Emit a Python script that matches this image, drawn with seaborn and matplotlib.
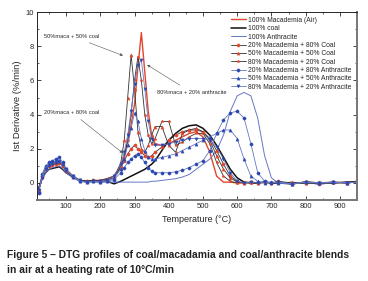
import matplotlib
matplotlib.use("Agg")
import matplotlib.pyplot as plt
from matplotlib.ticker import MultipleLocator
import seaborn as sns

# temperature grid (deg C) shared by all curves
temp = [20, 30, 40, 50, 60, 70, 80, 90, 100, 120, 140, 160, 180, 200, 220, 240, 260,
        270, 280, 290, 300, 310, 320, 330, 340, 350, 360, 380, 400, 420, 440, 460,
        480, 500, 520, 540, 560, 580, 600, 620, 640, 660, 680, 700, 720, 760, 800,
        840, 880, 920, 950]

# DTG values (%/min)
mac100 = [-0.4, 0.3, 0.8, 1.0, 1.1, 1.2, 1.3, 1.1, 0.8, 0.4, 0.15, 0.1, 0.15, 0.15, 0.25, 0.4, 1.0,
          1.6, 2.4, 3.4, 4.6, 6.8, 8.8, 6.5, 4.2, 2.8, 2.3, 2.2, 2.3, 2.5, 2.7, 2.9,
          3.0, 2.7, 1.8, 0.4, 0.05, 0.05, 0.0, 0.0, 0.05, 0.0, 0.05, 0.0, 0.05, -0.05, 0.05,
          0.0, 0.05, 0.0, 0.1]
coal100 = [-0.3, 0.3, 0.6, 0.8, 0.85, 0.9, 0.95, 0.8, 0.6, 0.35, 0.15, 0.1, 0.1, 0.1, 0.1, -0.05, 0.1,
           0.2, 0.3, 0.4, 0.5, 0.6, 0.7, 0.8, 0.95, 1.1, 1.3, 1.9, 2.5, 2.9, 3.2, 3.35,
           3.4, 3.2, 2.8, 2.2, 1.5, 0.8, 0.3, 0.05, 0.0, 0.0, 0.05, 0.0, 0.0, -0.05, 0.05,
           0.0, 0.0, 0.05, 0.05]
anth100 = [-0.4, 0.2, 0.6, 0.8, 0.9, 0.95, 1.0, 0.85, 0.6, 0.3, 0.1, 0.05, 0.05, 0.05, 0.05, 0.05, 0.05,
           0.05, 0.05, 0.05, 0.05, 0.05, 0.05, 0.05, 0.05, 0.1, 0.1, 0.15, 0.2, 0.25, 0.35, 0.5,
           0.8, 1.1, 1.4, 1.9, 2.8, 4.2, 5.1, 5.3, 5.1, 3.8, 1.6, 0.3, 0.0, -0.05, 0.05,
           -0.1, 0.05, 0.0, 0.05]
coal_20mac = [-0.5, 0.4, 0.8, 1.0, 1.05, 1.1, 1.15, 1.0, 0.7, 0.35, 0.15, 0.1, 0.15, 0.1, 0.2, 0.3, 0.9,
              1.3, 1.7, 2.0, 2.2, 2.0, 1.8, 1.6, 1.5, 1.6, 1.8, 2.1, 2.5, 2.8, 3.0, 3.1,
              3.1, 3.0, 2.6, 1.9, 1.1, 0.4, 0.1, 0.0, 0.05, 0.0, 0.05, 0.0, 0.1, 0.0, 0.05,
              -0.05, 0.05, 0.0, 0.1]
coal_50mac = [-0.4, 0.4, 0.9, 1.1, 1.15, 1.2, 1.25, 1.05, 0.75, 0.4, 0.15, 0.1, 0.15, 0.1, 0.2, 0.3, 1.2,
              2.5, 5.0, 7.5, 5.5, 3.0, 2.0, 1.8, 2.2, 2.8, 3.3, 3.3, 2.2, 1.8, 2.9, 3.1,
              3.2, 3.0, 2.5, 1.6, 0.8, 0.3, 0.05, 0.0, 0.05, 0.0, 0.05, 0.0, 0.05, -0.05, 0.05,
              0.0, 0.05, 0.0, 0.1]
coal_80mac = [-0.4, 0.3, 0.9, 1.1, 1.2, 1.25, 1.3, 1.1, 0.8, 0.4, 0.15, 0.1, 0.15, 0.15, 0.25, 0.4, 1.0,
              1.5, 2.5, 4.0, 6.0, 7.4, 6.0, 4.0, 2.8, 2.3, 2.6, 3.6, 3.6, 2.2, 2.4, 2.7,
              2.9, 2.9, 2.3, 1.2, 0.4, 0.1, 0.0, 0.05, 0.0, 0.05, 0.0, 0.05, 0.0, 0.05, -0.05,
              0.05, 0.0, 0.05, 0.1]
anth_20mac = [-0.6, 0.5, 1.0, 1.2, 1.3, 1.4, 1.5, 1.2, 0.8, 0.4, 0.1, 0.05, 0.1, 0.05, 0.1, 0.2, 0.6,
              0.9, 1.2, 1.4, 1.6, 1.7, 1.5, 1.2, 0.9, 0.7, 0.6, 0.6, 0.6, 0.65, 0.75, 0.9,
              1.1, 1.3, 1.9, 2.9, 3.7, 4.1, 4.2, 3.8, 2.3, 0.6, 0.1, 0.0, 0.05, -0.05, 0.05,
              0.0, 0.05, 0.0, 0.05]
anth_50mac = [-0.5, 0.4, 0.9, 1.1, 1.2, 1.25, 1.3, 1.1, 0.75, 0.35, 0.1, 0.05, 0.1, 0.05, 0.1, 0.3, 0.8,
              1.4, 2.2, 3.2, 4.1, 3.6, 2.6, 1.9, 1.5, 1.4, 1.4, 1.5, 1.6, 1.7, 1.9, 2.1,
              2.3, 2.5, 2.7, 2.9, 3.1, 3.1, 2.6, 1.4, 0.4, 0.1, 0.0, 0.05, 0.0, -0.05, 0.05,
              0.0, 0.05, 0.0, 0.05]
anth_80mac = [-0.4, 0.3, 0.8, 1.0, 1.1, 1.2, 1.3, 1.1, 0.8, 0.4, 0.15, 0.05, 0.1, 0.1, 0.2, 0.4, 1.1,
              1.8, 2.8, 4.2, 5.8, 6.9, 7.2, 5.5, 3.6, 2.6, 2.2, 2.2, 2.3, 2.4, 2.5, 2.6,
              2.6, 2.6, 2.5, 2.1, 1.4, 0.6, 0.1, 0.0, 0.05, 0.0, 0.05, 0.0, 0.05, -0.05, 0.05,
              0.0, 0.05, 0.0, 0.05]

sns.set_style("ticks")
plt.rcParams["font.family"] = ["Liberation Sans", "DejaVu Sans"]

fig = plt.figure(figsize=(3.68, 2.81), dpi=100)
ax = fig.add_axes([0.1005, 0.288, 0.8695, 0.669])

red = "#e2462c"
blue_line = "#6677c4"
blue_mk = "#2a48b0"

series = [
    ("100% Macademia (Air)", mac100, red, None, 1.0),
    ("100% coal", coal100, "#111111", None, 1.1),
    ("100% Anthracite", anth100, blue_line, None, 0.7),
    ("20% Macademia + 80% Coal", coal_20mac, "#333333", "o", 0.6),
    ("50% Macademia + 50% Coal", coal_50mac, "#333333", "^", 0.6),
    ("80% Macademia + 20% Coal", coal_80mac, "#333333", "*", 0.6),
    ("20% Macademia + 80% Anthracite", anth_20mac, blue_line, "o", 0.6),
    ("50% Macademia + 50% Anthracite", anth_50mac, blue_line, "^", 0.6),
    ("80% Macademia + 20% Anthracite", anth_80mac, blue_line, "v", 0.6),
]

for name, vals, col, mk, lw in series:
    if mk is None:
        sns.lineplot(x=temp, y=vals, color=col, lw=lw, ax=ax, label=name)
    else:
        mcol = red if "Coal" in name else blue_mk
        sns.lineplot(x=temp, y=vals, color=col, lw=lw, ax=ax, label=name,
                     marker=mk, markersize=2.3, markerfacecolor=mcol,
                     markeredgecolor=mcol, markeredgewidth=0.3)

ax.set_xlim(15, 950)
ax.set_ylim(-1, 10)
ax.xaxis.set_major_locator(MultipleLocator(100))
ax.xaxis.set_minor_locator(MultipleLocator(50))
ax.yaxis.set_major_locator(MultipleLocator(2))
ax.yaxis.set_minor_locator(MultipleLocator(1))
ax.tick_params(which="both", direction="in", top=True, right=True, labelsize=5.5, pad=2)
ax.tick_params(which="major", length=3, width=0.6)
ax.tick_params(which="minor", length=1.5, width=0.5)
for s in ax.spines.values():
    s.set_linewidth(0.7)
ax.spines["right"].set_linewidth(1.4)
ax.spines["right"].set_color("#777777")
ax.spines["bottom"].set_linewidth(1.4)
ax.spines["bottom"].set_color("#777777")

ax.set_xlabel("Temperature (\u00b0C)", fontsize=6.5, labelpad=4)
ax.set_ylabel("Ist Derivative (%/min)", fontsize=6.8, labelpad=3)

ax.legend(loc="upper left", bbox_to_anchor=(0.59, 1.0), fontsize=4.9, frameon=False,
          labelspacing=0.2, handlelength=2.2, handletextpad=0.4, borderpad=0.2)

arrow = dict(arrowstyle="-|>", color="#555555", lw=0.4, mutation_scale=4)
ax.annotate("50%maca + 50% coal", xy=(274, 7.4), xytext=(35, 8.6), fontsize=4.1,
            ha="left", va="center", arrowprops=arrow)
ax.annotate("80%maca + 20% anthracite", xy=(330, 7.0), xytext=(365, 5.3), fontsize=4.1,
            ha="left", va="center", arrowprops=arrow)
ax.annotate("20%maca + 80% coal", xy=(272, 1.65), xytext=(35, 4.15), fontsize=4.1,
            ha="left", va="center", arrowprops=arrow)

fig.text(0.019, 0.093, "Figure 5 \u2013 DTG profiles of coal/macadamia and coal/anthracite blends",
         fontsize=7.4, fontweight="bold", family=["Liberation Sans Narrow", "Liberation Sans"],
         va="center", color="#222222")
fig.text(0.019, 0.039, "in air at a heating rate of 10\u00b0C/min",
         fontsize=7.4, fontweight="bold", family=["Liberation Sans Narrow", "Liberation Sans"],
         va="center", color="#222222")

fig.savefig("out.png", dpi=100)
